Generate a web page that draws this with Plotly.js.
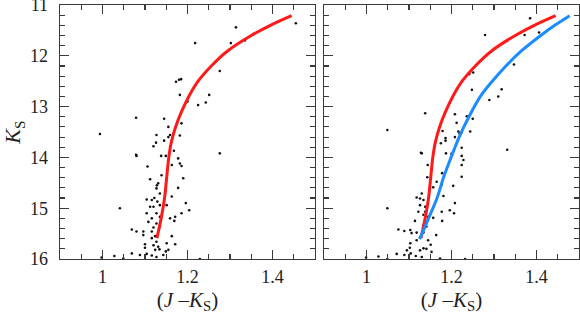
<!DOCTYPE html>
<html>
<head>
<meta charset="utf-8">
<script src="https://cdn.plot.ly/plotly-3.0.1.min.js"></script>
<style>
  html, body { margin: 0; padding: 0; background: #fff; }
  #cmd { width: 580px; height: 314px; }
</style>
</head>
<body>
<div id="cmd"></div>
<script>
// Near-infrared colour-magnitude diagrams: K_S versus (J - K_S)

// Left panel stars
const starsLeftColor = [1.455, 1.314, 1.218, 1.302, 1.335, 1.276, 1.185, 1.173, 1.180, 1.182,
  1.251, 1.200, 1.225, 1.243, 1.079, 1.145, 1.186, 1.155, 0.994, 1.127,
  1.159, 1.182, 1.155, 1.145, 1.126, 1.120, 1.168, 1.079, 1.080, 1.138,
  1.149, 1.178, 1.276, 1.106, 1.182, 1.186, 1.163, 1.139, 1.190, 1.112,
  1.131, 1.128, 1.127, 1.178, 1.135, 1.163, 1.104, 1.116, 1.122, 1.129,
  1.112, 1.120, 1.135, 1.151, 1.041, 1.196, 1.204, 1.186, 1.104, 1.127,
  1.135, 1.116, 1.159, 1.171, 1.169, 1.108, 1.127, 1.120, 1.135, 1.069,
  1.080, 1.096, 1.116, 1.096, 1.124, 1.116, 1.163, 1.127, 1.100, 1.151,
  1.171, 1.120, 1.131, 1.100, 1.134, 1.155, 1.124, 1.069, 1.088, 1.104,
  1.116, 1.127, 1.143, 1.028, 0.998, 1.049, 1.229, 1.149];
const starsLeftMag = [11.36, 11.44, 11.75, 11.75, 11.70, 12.30, 12.46, 12.51, 12.47, 12.77,
  12.77, 12.90, 12.97, 12.92, 13.22, 13.24, 13.33, 13.40, 13.54, 13.56,
  13.56, 13.57, 13.60, 13.67, 13.71, 13.78, 13.87, 13.95, 13.97, 13.97,
  13.97, 14.02, 13.92, 14.18, 14.12, 14.17, 14.15, 14.35, 14.41, 14.43,
  14.51, 14.55, 14.61, 14.60, 14.71, 14.77, 14.83, 14.84, 14.80, 14.87,
  14.97, 14.97, 14.94, 14.94, 15.00, 14.90, 15.04, 15.10, 15.10, 15.10,
  15.17, 15.20, 15.20, 15.17, 15.25, 15.27, 15.30, 15.38, 15.36, 15.42,
  15.46, 15.46, 15.46, 15.53, 15.55, 15.59, 15.55, 15.66, 15.71, 15.69,
  15.71, 15.73, 15.76, 15.78, 15.81, 15.82, 15.82, 15.89, 15.92, 15.90,
  15.93, 15.96, 15.92, 15.94, 15.97, 15.99, 16.00, 15.85];

// Right panel stars
const starsRightColor = [1.385, 1.406, 1.372, 1.279, 1.347, 1.251, 1.242, 1.248, 1.318, 1.310,
  1.289, 1.138, 1.208, 1.236, 1.250, 1.212, 1.049, 1.179, 1.216, 1.224,
  1.244, 1.219, 1.186, 1.208, 1.186, 1.175, 1.224, 1.128, 1.130, 1.187,
  1.200, 1.224, 1.331, 1.228, 1.224, 1.144, 1.178, 1.224, 1.143, 1.165,
  1.177, 1.204, 1.157, 1.130, 1.181, 1.126, 1.118, 1.134, 1.049, 1.208,
  1.126, 1.138, 1.122, 1.138, 1.196, 1.206, 1.177, 1.134, 1.145, 1.157,
  1.178, 1.114, 1.138, 1.134, 1.141, 1.075, 1.089, 1.103, 1.106, 1.118,
  1.134, 1.164, 1.126, 1.118, 1.145, 1.151, 1.103, 1.102, 1.134, 1.141,
  1.126, 1.153, 1.095, 1.071, 1.089, 1.104, 1.116, 1.130, 1.028, 0.999,
  1.049, 1.173, 1.232];
const starsRightMag = [11.26, 11.54, 11.59, 11.59, 12.17, 12.33, 12.36, 12.67, 12.66, 12.80,
  12.87, 13.13, 13.15, 13.19, 13.24, 13.32, 13.46, 13.48, 13.49, 13.51,
  13.49, 13.53, 13.62, 13.60, 13.67, 13.72, 13.81, 13.91, 13.92, 13.92,
  13.93, 13.97, 13.85, 14.05, 14.15, 14.15, 14.31, 14.38, 14.39, 14.48,
  14.54, 14.56, 14.59, 14.71, 14.76, 14.81, 14.79, 14.84, 15.00, 14.90,
  14.94, 14.97, 15.07, 15.07, 15.04, 15.10, 15.07, 15.13, 15.17, 15.19,
  15.25, 15.25, 15.28, 15.34, 15.36, 15.42, 15.45, 15.43, 15.49, 15.48,
  15.48, 15.53, 15.57, 15.63, 15.63, 15.72, 15.69, 15.78, 15.79, 15.80,
  15.83, 15.86, 15.83, 15.90, 15.92, 15.89, 15.94, 15.96, 15.95, 15.97,
  16.00, 15.99, 16.00];

// Red isochrone (drawn in both panels)
const redColor = [1.128, 1.138, 1.146, 1.151, 1.156, 1.162, 1.172, 1.186, 1.203, 1.225, 1.256, 1.295, 1.350, 1.395, 1.445];
const redMag   = [15.59, 15.20, 14.80, 14.40, 14.00, 13.70, 13.40, 13.10, 12.80, 12.50, 12.20, 11.90, 11.60, 11.40, 11.21];

// Blue isochrone (right panel)
const blueColor = [1.125, 1.146, 1.166, 1.181, 1.199, 1.218, 1.241, 1.268, 1.296, 1.328, 1.365, 1.410, 1.443, 1.478];
const blueMag   = [15.61, 15.20, 14.80, 14.40, 14.00, 13.60, 13.20, 12.80, 12.50, 12.20, 11.90, 11.60, 11.40, 11.21];

const serif = 'Liberation Serif, Times New Roman, serif';
const ink = '#222';
const frame = '#3a3a3a';

const dots = { color: '#111', size: 2.6 };

const traces = [
  { x: starsLeftColor, y: starsLeftMag, xaxis: 'x', yaxis: 'y', type: 'scatter', mode: 'markers',
    marker: dots, hoverinfo: 'skip' },
  { x: redColor, y: redMag, xaxis: 'x', yaxis: 'y', type: 'scatter', mode: 'lines',
    line: { color: '#ff1a1a', width: 3, shape: 'spline' } },
  { x: starsRightColor, y: starsRightMag, xaxis: 'x2', yaxis: 'y2', type: 'scatter', mode: 'markers',
    marker: dots, hoverinfo: 'skip' },
  { x: redColor, y: redMag, xaxis: 'x2', yaxis: 'y2', type: 'scatter', mode: 'lines',
    line: { color: '#ff1a1a', width: 3, shape: 'spline' } },
  { x: blueColor, y: blueMag, xaxis: 'x2', yaxis: 'y2', type: 'scatter', mode: 'lines',
    line: { color: '#1a8cff', width: 3, shape: 'spline' } }
];

function xAxis(domain, anchor) {
  return {
    domain: domain, anchor: anchor, range: [0.9, 1.5],
    tick0: 1.0, dtick: 0.2, ticks: 'inside', ticklen: 9, tickwidth: 1.2, tickcolor: frame,
    minor: { dtick: 0.05, ticks: 'inside', ticklen: 5, tickwidth: 1.1, tickcolor: frame },
    showline: true, linecolor: frame, linewidth: 1.4, mirror: 'ticks',
    showgrid: false, zeroline: false, ticklabelstandoff: 1, ticklabeloverflow: 'allow',
    tickfont: { family: serif, size: 18, color: ink },
    title: { text: '(<i>J</i> \u2013<i>K</i><sub>S</sub>)', font: { family: serif, size: 21, color: ink }, standoff: 14 }
  };
}

function yAxis(anchor, labels) {
  return {
    domain: [0, 1], anchor: anchor, range: [16, 11],
    tick0: 11, dtick: 1, ticks: 'inside', ticklen: 9, tickwidth: 1.2, tickcolor: frame,
    minor: { dtick: 0.2, ticks: 'inside', ticklen: 5, tickwidth: 1.1, tickcolor: frame },
    showline: true, linecolor: frame, linewidth: 1.4, mirror: 'ticks',
    showgrid: false, zeroline: false, showticklabels: labels, ticklabelstandoff: 7,
    ticklabeloverflow: 'allow',
    tickfont: { family: serif, size: 18, color: ink }
  };
}

const yLeft = yAxis('x', true);
yLeft.title = { text: '<i>K</i><sub>S</sub>', font: { family: serif, size: 22, color: ink }, standoff: 10 };

const layout = {
  width: 580, height: 314,
  margin: { l: 60, r: 1, t: 5, b: 55 },
  paper_bgcolor: '#fff', plot_bgcolor: '#fff',
  showlegend: false,
  xaxis: xAxis([0, 0.4913], 'y'),
  xaxis2: xAxis([0.5087, 1], 'y2'),
  yaxis: yLeft,
  yaxis2: yAxis('x2', false)
};

Plotly.newPlot('cmd', traces, layout, { staticPlot: true, displayModeBar: false });
</script>
</body>
</html>
